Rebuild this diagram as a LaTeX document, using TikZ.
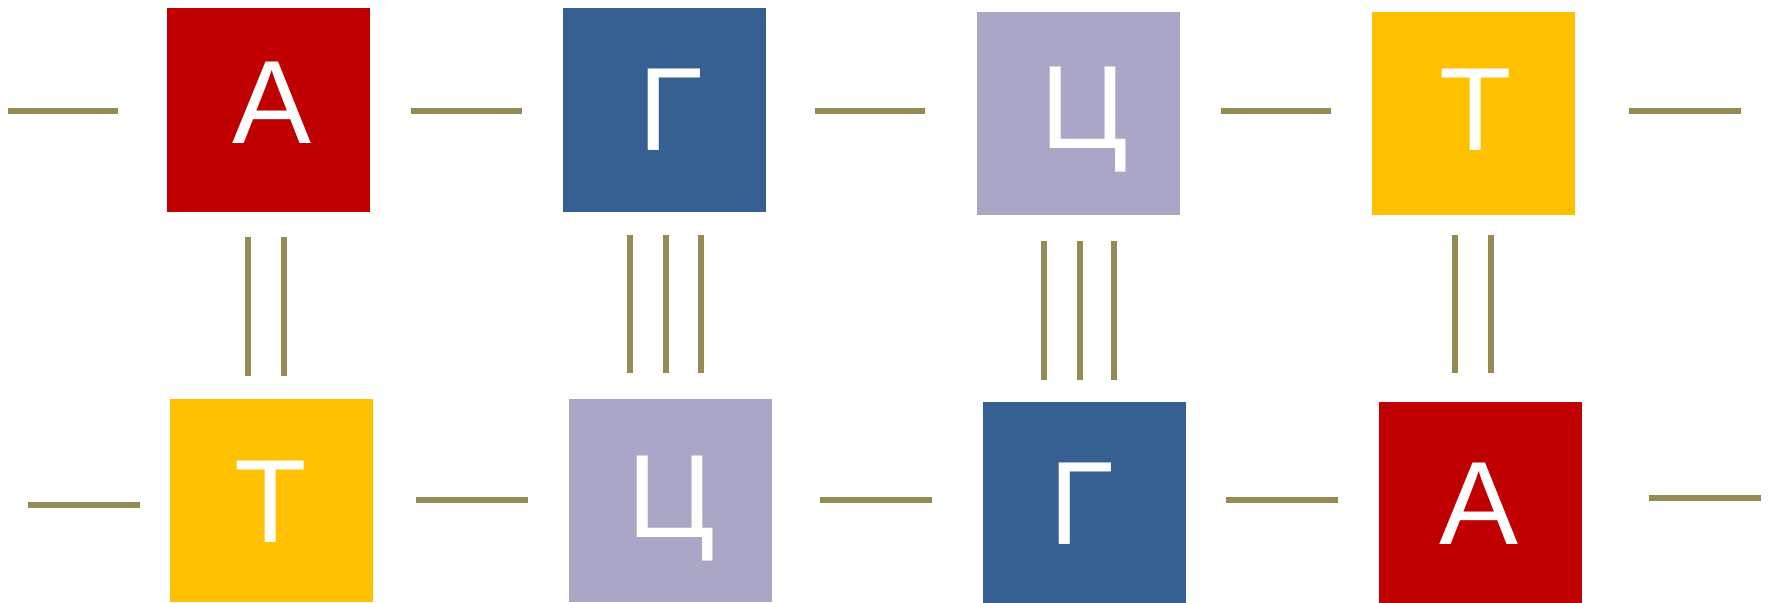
\documentclass[tikz,border=0pt]{standalone}
\usepackage{fontspec}
\setmainfont{Liberation Sans}
\definecolor{cRed}{HTML}{C00000}
\definecolor{cBlue}{HTML}{376092}
\definecolor{cLav}{HTML}{A9A6C6}
\definecolor{cYel}{HTML}{FFC000}
\definecolor{cOl}{HTML}{948A54}
\tikzset{
  base/.style={rectangle, draw=none, minimum width=180pt, minimum height=180pt, inner sep=0pt},
  letter/.style={anchor=base, inner sep=0pt, text=white, font=\fontsize{105}{105}\selectfont},
  bond/.style={draw=cOl, line width=5.3pt},
}
\begin{document}
\begin{tikzpicture}[x=1pt,y=-1pt]
\useasboundingbox (0,0) rectangle (1568,534);
% top strand
\node[base, fill=cRed]  (t1) at (238,97.5) {};
\node[base, fill=cBlue] (t2) at (589,97.5) {};
\node[base, fill=cLav]  (t3) at (956,100.5) {};
\node[base, fill=cYel]  (t4) at (1306,100.5) {};
% bottom strand
\node[base, fill=cYel]  (b1) at (241,444) {};
\node[base, fill=cLav]  (b2) at (594,444) {};
\node[base, fill=cBlue] (b3) at (961.5,446) {};
\node[base, fill=cRed]  (b4) at (1312,446) {};
% letters
\node[letter] (lt1) at (241.5,127) {А};
\node[letter] (lt2) at (594,133) {Г};
\node[letter] (lt3) at (961,132) {Ц};
\node[letter] (lt4) at (1308,133) {Т};
\node[letter] (lb1) at (239.5,481) {Т};
\node[letter] (lb2) at (595,476) {Ц};
\node[letter] (lb3) at (959,483) {Г};
\node[letter] (lb4) at (1311,483) {А};
% top backbone
\coordinate (h0a) at (7,98);    \coordinate (h0b) at (105,98);
\coordinate (h1a) at (364,98);  \coordinate (h1b) at (463,98);
\coordinate (h2a) at (722,98);  \coordinate (h2b) at (820,98);
\coordinate (h3a) at (1082,98); \coordinate (h3b) at (1180,98);
\coordinate (h4a) at (1444,98); \coordinate (h4b) at (1543,98);
\foreach \i in {0,...,4} \draw[bond] (h\i a) -- (h\i b);
% bottom backbone
\coordinate (g0a) at (25,448);   \coordinate (g0b) at (124,448);
\coordinate (g1a) at (369,443);  \coordinate (g1b) at (468,443);
\coordinate (g2a) at (727,443);  \coordinate (g2b) at (826,443);
\coordinate (g3a) at (1087,443); \coordinate (g3b) at (1186,443);
\coordinate (g4a) at (1462,441); \coordinate (g4b) at (1561,441);
\foreach \i in {0,...,4} \draw[bond] (g\i a) -- (g\i b);
% hydrogen bonds
\foreach \x in {220,252} \draw[bond] (\x,210) -- (\x,333);
\foreach \x in {558,590,621} \draw[bond] (\x,208) -- (\x,331);
\foreach \x in {925,957,987} \draw[bond] (\x,214) -- (\x,337);
\foreach \x in {1290,1322} \draw[bond] (\x,208) -- (\x,331);
\end{tikzpicture}
\end{document}
